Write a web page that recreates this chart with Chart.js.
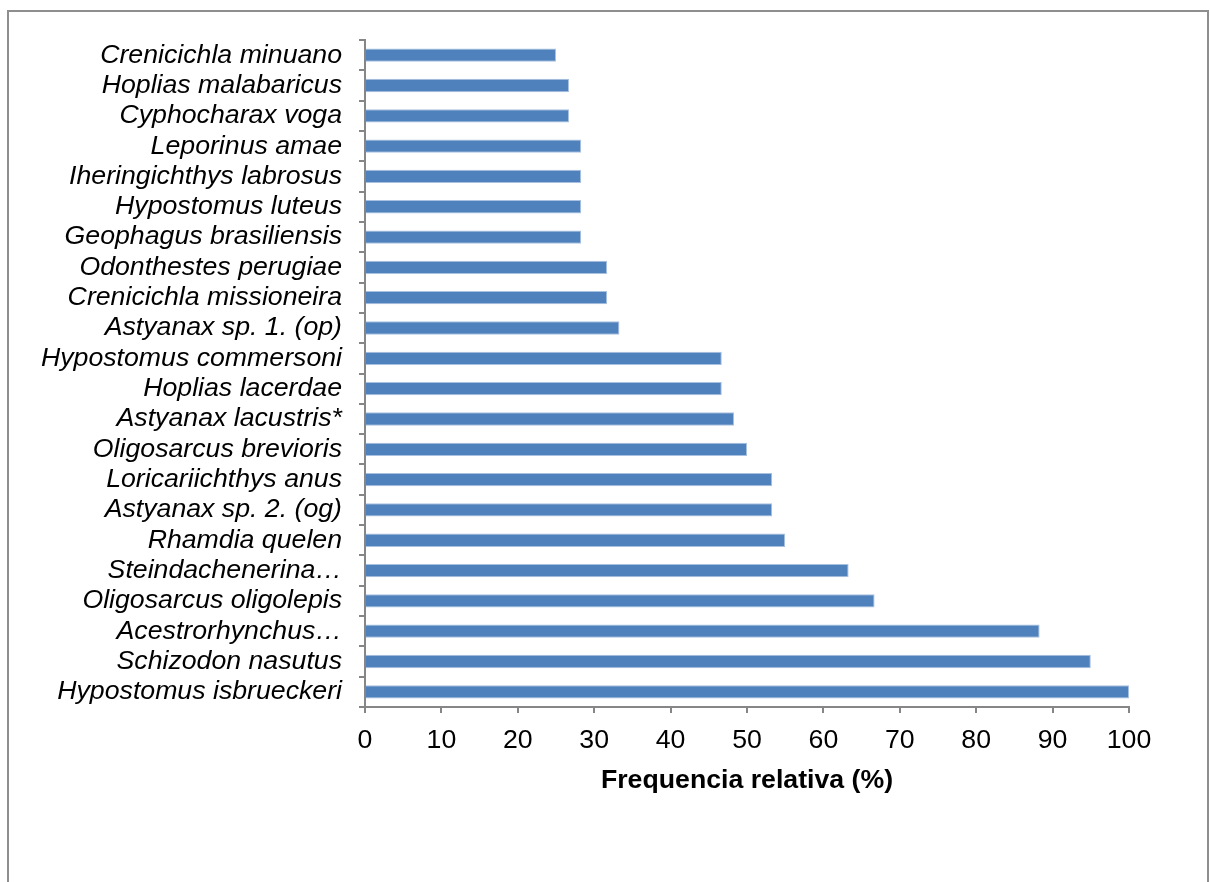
<!DOCTYPE html>
<html>
<head>
<meta charset="utf-8">
<script src="https://cdn.jsdelivr.net/npm/chart.js@4"></script>
<style>
  html, body { margin: 0; padding: 0; background: #fff; overflow: hidden; }
  #frame { position: absolute; left: 7px; top: 10px; width: 1202px; height: 900px; border: 2px solid #8e8e8e; box-sizing: border-box; }
  #wrap { position: absolute; left: 0; top: 0; width: 1210px; height: 882px; }
</style>
</head>
<body>
<div id="frame"></div>
<div id="wrap"><canvas id="speciesChart" width="1210" height="882"></canvas></div>
<script>
// species, top to bottom as in the figure
const speciesLabels = [
  "Crenicichla minuano", "Hoplias malabaricus", "Cyphocharax voga", "Leporinus amae",
  "Iheringichthys labrosus", "Hypostomus luteus", "Geophagus brasiliensis", "Odonthestes perugiae",
  "Crenicichla missioneira", "Astyanax sp. 1. (op)", "Hypostomus commersoni", "Hoplias lacerdae",
  "Astyanax lacustris*", "Oligosarcus brevioris", "Loricariichthys anus", "Astyanax sp. 2. (og)",
  "Rhamdia quelen", "Steindachenerina…", "Oligosarcus oligolepis", "Acestrorhynchus…",
  "Schizodon nasutus", "Hypostomus isbrueckeri"
];
const frequencyValues = [
  25, 26.7, 26.7, 28.3, 28.3, 28.3, 28.3, 31.7, 31.7, 33.3, 46.7,
  46.7, 48.3, 50, 53.3, 53.3, 55, 63.3, 66.7, 88.3, 95, 100
];
const xTickValues = [0, 10, 20, 30, 40, 50, 60, 70, 80, 90, 100];
const xAxisTitle = "Frequencia relativa (%)";

const axisGray = "#868686";
const fontFamily = "'Liberation Sans', Arial, sans-serif";
const fontSize = 26.7;

const chartElement = document.getElementById("speciesChart");
new Chart(chartElement.getContext("2d"), {
  type: "bar",
  data: {
    labels: speciesLabels,
    datasets: [{
      data: frequencyValues,
      backgroundColor: "#4F81BD",
      borderColor: "#A9C1E0",
      borderWidth: 1,
      borderSkipped: "start",
      barPercentage: 0.44,
      categoryPercentage: 1.0
    }]
  },
  options: {
    indexAxis: "y",
    responsive: false,
    animation: false,
    layout: { padding: { left: 0, right: 81, top: 40, bottom: 75 } },
    plugins: { legend: { display: false }, tooltip: { enabled: false } },
    scales: {
      x: {
        type: "linear",
        min: 0,
        max: 100,
        afterBuildTicks: (axis) => { axis.ticks = xTickValues.map((v) => ({ value: v })); },
        afterFit: (axis) => { axis.height = 100; },
        grid: { drawOnChartArea: false, drawTicks: true, tickLength: 6, color: axisGray, lineWidth: 2 },
        border: { color: axisGray, width: 2 },
        ticks: { color: "#000", padding: 12, font: { family: fontFamily, size: fontSize }, maxRotation: 0 },
        title: {
          display: true,
          text: xAxisTitle,
          color: "#000",
          font: { family: fontFamily, size: fontSize, weight: "bold" },
          padding: { top: 0, bottom: 10 }
        }
      },
      y: {
        afterFit: (axis) => { axis.width = 365; },
        grid: { offset: true, drawOnChartArea: false, drawTicks: true, tickLength: 6, color: axisGray, lineWidth: 2 },
        border: { color: axisGray, width: 2 },
        ticks: { color: "#000", padding: 17, font: { family: fontFamily, size: fontSize, style: "italic" }, autoSkip: false }
      }
    }
  }
});
</script>
</body>
</html>
